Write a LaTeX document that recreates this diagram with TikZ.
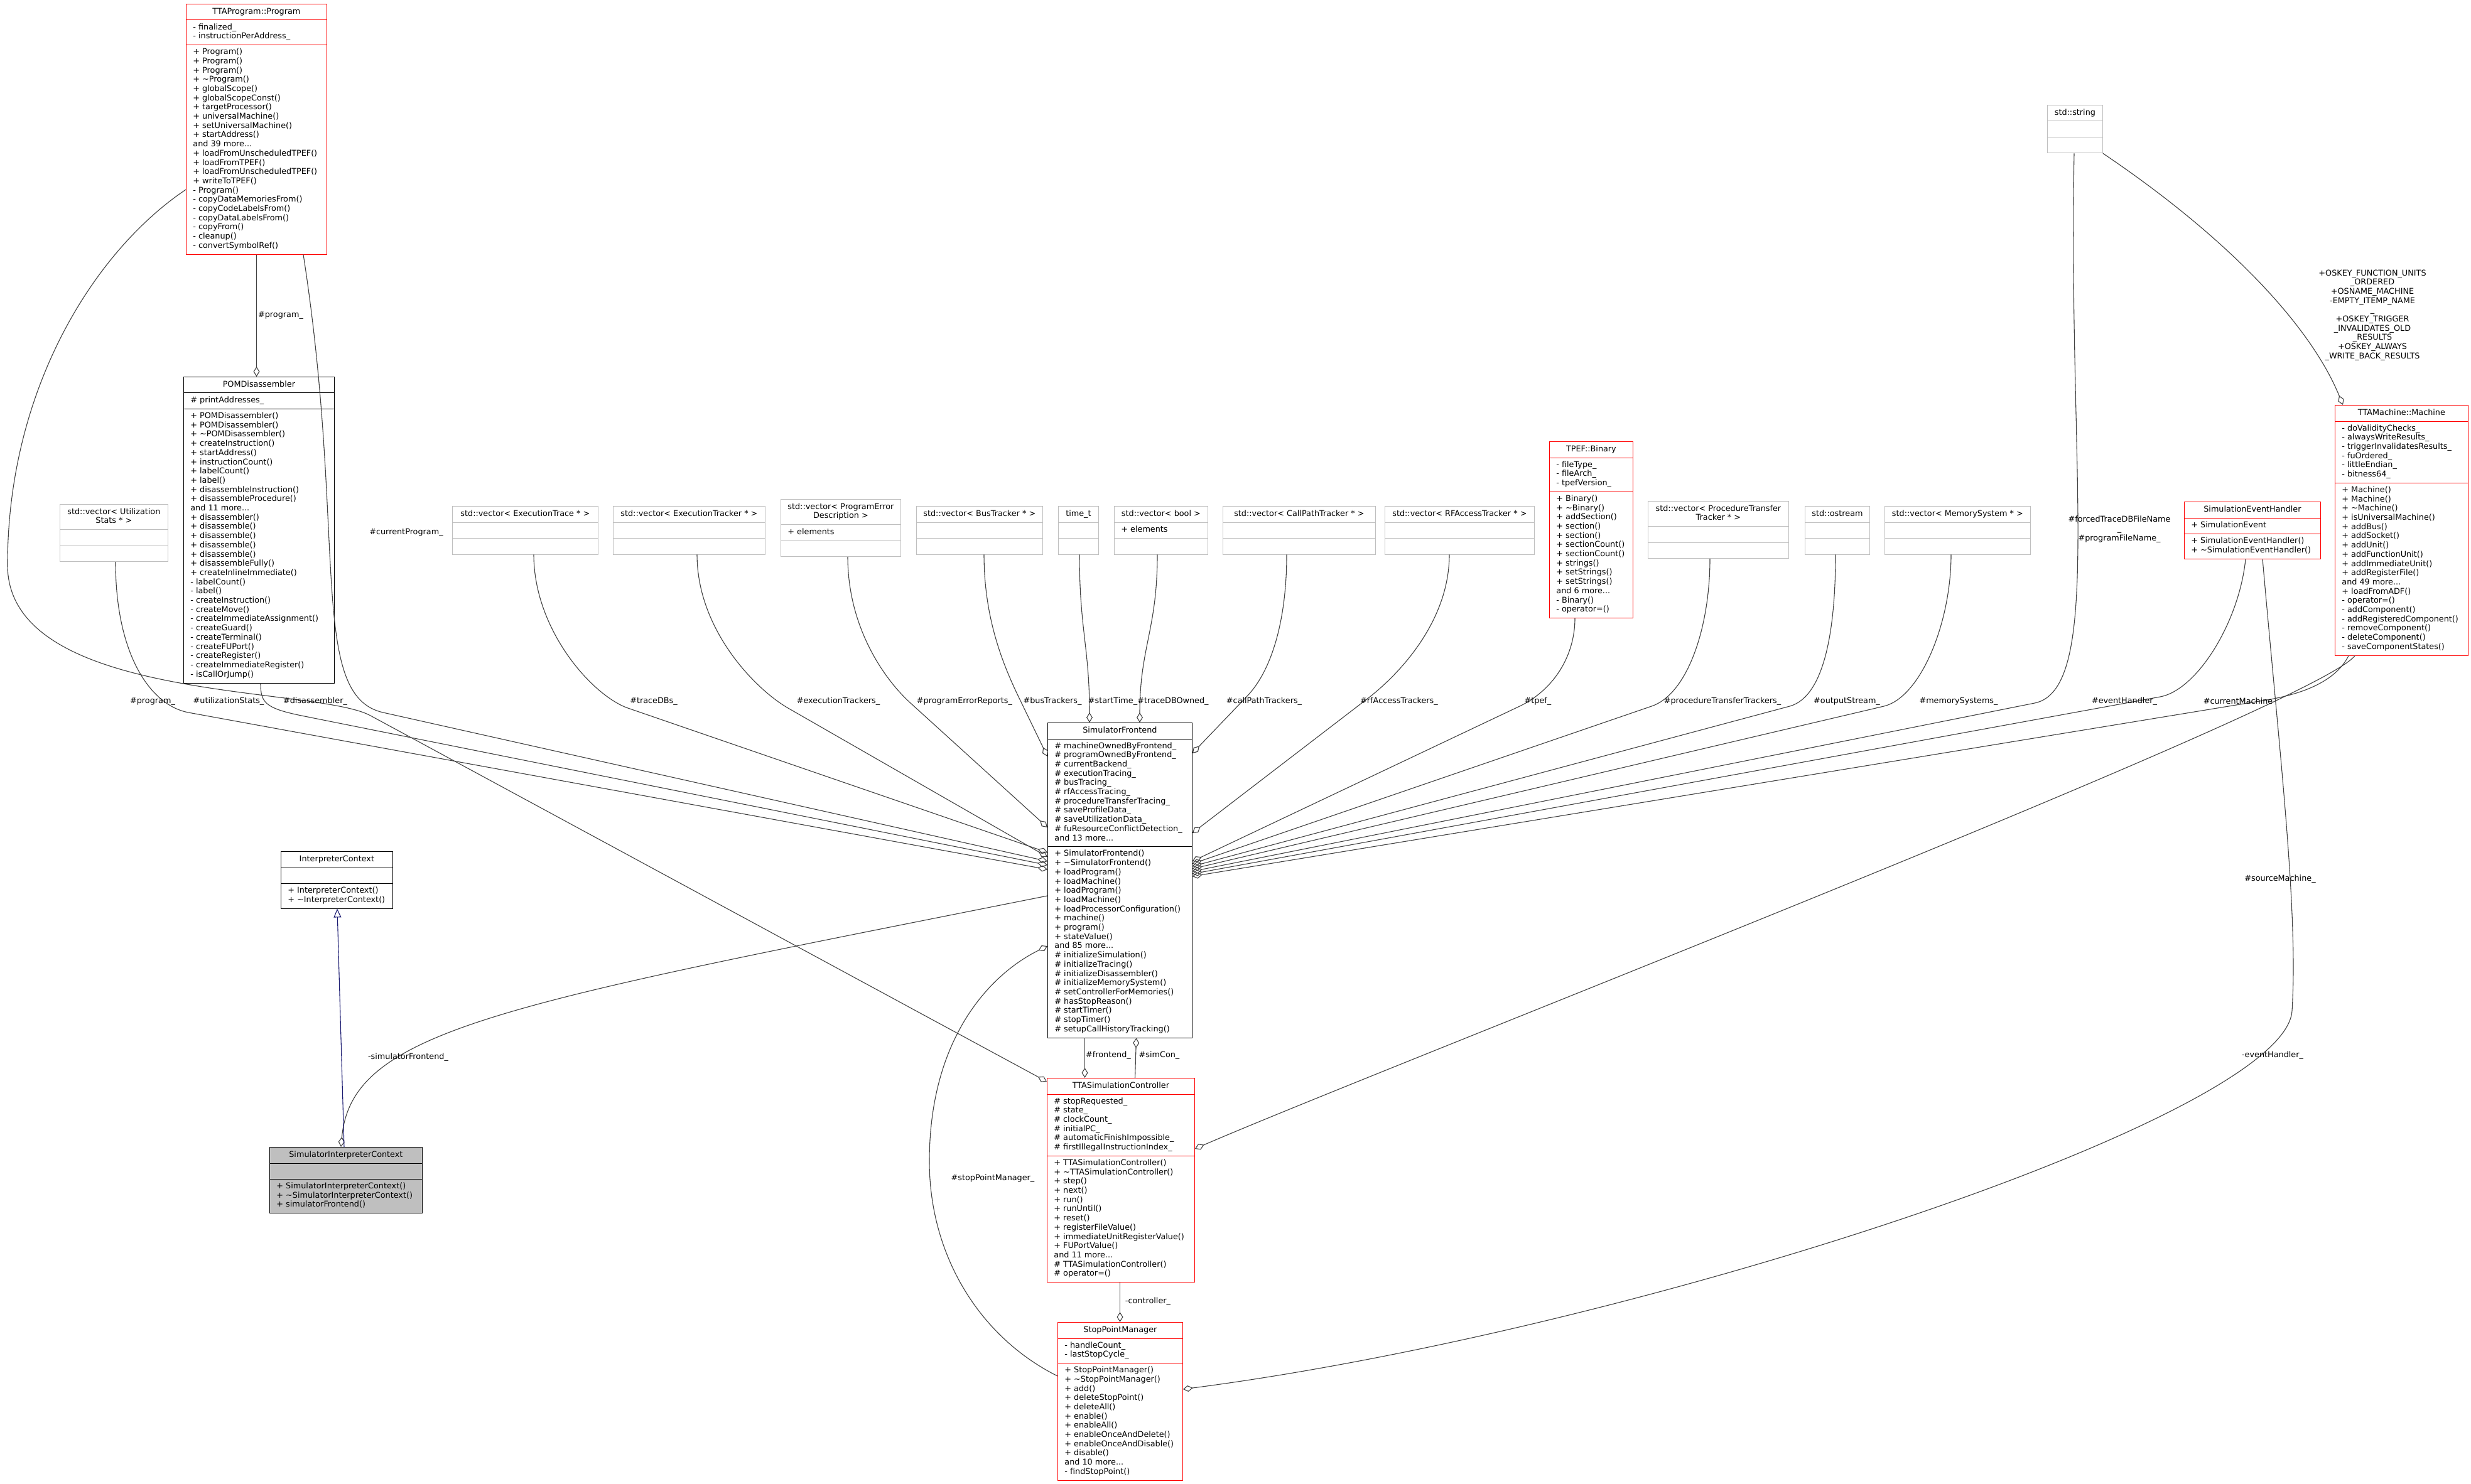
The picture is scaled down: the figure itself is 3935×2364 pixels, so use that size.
\documentclass[tikz,border=0pt]{standalone}
\usepackage{fontspec}
\setmainfont{DejaVu Sans}
\usetikzlibrary{calc}
\usetikzlibrary{arrows.meta}
\usetikzlibrary{shapes.multipart}

\definecolor{edgegray}{HTML}{404040}
\definecolor{inhblue}{HTML}{191970}
\definecolor{stdgray}{HTML}{BFBFBF}
\definecolor{docred}{HTML}{FF0000}
\newcommand{\clsfont}{\fontsize{6.4}{7.35}\selectfont\strut}
\newcommand{\lblfont}{\fontsize{6.4}{7.35}\selectfont}

\begin{document}
\begin{tikzpicture}[x=0.5pt, y=-0.5pt,
  cls/.style={rectangle split, rectangle split parts=3,
    rectangle split part align={center,left,left},
    rectangle split ignore empty parts=false,
    draw=black, fill=white, font=\clsfont, align=left,
    inner xsep=5.5pt, inner ysep=2.5pt, anchor=north west,
    minimum width=#1*0.5pt},
  redcls/.style={cls=#1, draw=docred},
  stdcls/.style={cls=#1, draw=stdgray},
  lbl/.style={font=\lblfont, align=center, inner sep=0pt},
  member/.style={draw=edgegray, line width=0.55pt, -{Diamond[open,length=8pt,width=5pt]}},
  isa/.style={draw=inhblue, line width=0.55pt, -{Triangle[open,length=7pt,width=6pt]}}]

\useasboundingbox (0,0) rectangle (3935,2364);

% top row
\node[redcls=224] (prog) at (296,6) {TTAProgram::Program
  \nodepart{two}- finalized\_\\- instructionPerAddress\_
  \nodepart{three}+ Program()\\+ Program()\\+ Program()\\+ \textasciitilde Program()\\+ globalScope()\\
  + globalScopeConst()\\+ targetProcessor()\\+ universalMachine()\\+ setUniversalMachine()\\+ startAddress()\\
  and 39 more...\\+ loadFromUnscheduledTPEF()\\+ loadFromTPEF()\\+ loadFromUnscheduledTPEF()\\+ writeToTPEF()\\
  - Program()\\- copyDataMemoriesFrom()\\- copyCodeLabelsFrom()\\- copyDataLabelsFrom()\\- copyFrom()\\
  - cleanup()\\- convertSymbolRef()};

\node[cls=240] (pom) at (292,600) {POMDisassembler
  \nodepart{two}\# printAddresses\_
  \nodepart{three}+ POMDisassembler()\\+ POMDisassembler()\\+ \textasciitilde POMDisassembler()\\+ createInstruction()\\
  + startAddress()\\+ instructionCount()\\+ labelCount()\\+ label()\\+ disassembleInstruction()\\
  + disassembleProcedure()\\and 11 more...\\+ disassembler()\\+ disassemble()\\+ disassemble()\\+ disassemble()\\
  + disassemble()\\+ disassembleFully()\\+ createInlineImmediate()\\- labelCount()\\- label()\\
  - createInstruction()\\- createMove()\\- createImmediateAssignment()\\- createGuard()\\- createTerminal()\\
  - createFUPort()\\- createRegister()\\- createImmediateRegister()\\- isCallOrJump()};

\node[stdcls=172] (utilstats) at (95,803) {\begin{tabular}{@{}c@{}}std::vector< Utilization\\Stats * >\end{tabular}
  \nodepart{two}\nodepart{three}};
\node[stdcls=232] (exectrace) at (720,806) {std::vector< ExecutionTrace * >\nodepart{two}\nodepart{three}};
\node[stdcls=242] (exectracker) at (976,806) {std::vector< ExecutionTracker * >\nodepart{two}\nodepart{three}};
\node[stdcls=191] (progerr) at (1243,795) {\begin{tabular}{@{}c@{}}std::vector< ProgramError\\Description >\end{tabular}
  \nodepart{two}+ elements\nodepart{three}};
\node[stdcls=197] (bustracker) at (1459,806) {std::vector< BusTracker * >\nodepart{two}\nodepart{three}};
\node[stdcls=64] (timet) at (1685,806) {time\_t\nodepart{two}\nodepart{three}};
\node[stdcls=149] (vecbool) at (1774,806) {std::vector< bool >\nodepart{two}+ elements\nodepart{three}};
\node[stdcls=243] (callpath) at (1947,806) {std::vector< CallPathTracker * >\nodepart{two}\nodepart{three}};
\node[stdcls=238] (rfaccess) at (2205,806) {std::vector< RFAccessTracker * >\nodepart{two}\nodepart{three}};

\node[redcls=133] (binary) at (2467,703) {TPEF::Binary
  \nodepart{two}- fileType\_\\- fileArch\_\\- tpefVersion\_
  \nodepart{three}+ Binary()\\+ \textasciitilde Binary()\\+ addSection()\\+ section()\\+ section()\\+ sectionCount()\\
  + sectionCount()\\+ strings()\\+ setStrings()\\+ setStrings()\\and 6 more...\\- Binary()\\- operator=()};

\node[stdcls=224] (proctrans) at (2624,798) {\begin{tabular}{@{}c@{}}std::vector< ProcedureTransfer\\Tracker * >\end{tabular}
  \nodepart{two}\nodepart{three}};
\node[stdcls=102] (ostream) at (2874,806) {std::ostream\nodepart{two}\nodepart{three}};
\node[stdcls=232] (memsys) at (3001,806) {std::vector< MemorySystem * >\nodepart{two}\nodepart{three}};
\node[stdcls=88] (stdstring) at (3260,167) {std::string\nodepart{two}\nodepart{three}};

\node[redcls=217] (seh) at (3478,799) {SimulationEventHandler
  \nodepart{two}+ SimulationEvent
  \nodepart{three}+ SimulationEventHandler()\\+ \textasciitilde SimulationEventHandler()};

\node[redcls=212] (machine) at (3718,645) {TTAMachine::Machine
  \nodepart{two}- doValidityChecks\_\\- alwaysWriteResults\_\\- triggerInvalidatesResults\_\\- fuOrdered\_\\
  - littleEndian\_\\- bitness64\_
  \nodepart{three}+ Machine()\\+ Machine()\\+ \textasciitilde Machine()\\+ isUniversalMachine()\\+ addBus()\\
  + addSocket()\\+ addUnit()\\+ addFunctionUnit()\\+ addImmediateUnit()\\+ addRegisterFile()\\and 49 more...\\
  + loadFromADF()\\- operator=()\\- addComponent()\\- addRegisteredComponent()\\- removeComponent()\\
  - deleteComponent()\\- saveComponentStates()};

% middle column
\node[cls=230] (sf) at (1668,1151) {SimulatorFrontend
  \nodepart{two}\# machineOwnedByFrontend\_\\\# programOwnedByFrontend\_\\\# currentBackend\_\\
  \# executionTracing\_\\\# busTracing\_\\\# rfAccessTracing\_\\\# procedureTransferTracing\_\\
  \# saveProfileData\_\\\# saveUtilizationData\_\\\# fuResourceConflictDetection\_\\and 13 more...
  \nodepart{three}+ SimulatorFrontend()\\+ \textasciitilde SimulatorFrontend()\\+ loadProgram()\\+ loadMachine()\\
  + loadProgram()\\+ loadMachine()\\+ loadProcessorConfiguration()\\+ machine()\\+ program()\\+ stateValue()\\
  and 85 more...\\\# initializeSimulation()\\\# initializeTracing()\\\# initializeDisassembler()\\
  \# initializeMemorySystem()\\\# setControllerForMemories()\\\# hasStopReason()\\\# startTimer()\\
  \# stopTimer()\\\# setupCallHistoryTracking()};

\node[redcls=235] (tsc) at (1667,1717) {TTASimulationController
  \nodepart{two}\# stopRequested\_\\\# state\_\\\# clockCount\_\\\# initialPC\_\\\# automaticFinishImpossible\_\\
  \# firstIllegalInstructionIndex\_
  \nodepart{three}+ TTASimulationController()\\+ \textasciitilde TTASimulationController()\\+ step()\\+ next()\\
  + run()\\+ runUntil()\\+ reset()\\+ registerFileValue()\\+ immediateUnitRegisterValue()\\+ FUPortValue()\\
  and 11 more...\\\# TTASimulationController()\\\# operator=()};

\node[redcls=199] (spm) at (1684,2106) {StopPointManager
  \nodepart{two}- handleCount\_\\- lastStopCycle\_
  \nodepart{three}+ StopPointManager()\\+ \textasciitilde StopPointManager()\\+ add()\\+ deleteStopPoint()\\
  + deleteAll()\\+ enable()\\+ enableAll()\\+ enableOnceAndDelete()\\+ enableOnceAndDisable()\\+ disable()\\
  and 10 more...\\- findStopPoint()};

% left column
\node[cls=178] (ictx) at (447,1356) {InterpreterContext
  \nodepart{two}\nodepart{three}+ InterpreterContext()\\+ \textasciitilde InterpreterContext()};
\node[cls=243, fill=stdgray] (sictx) at (429,1827) {SimulatorInterpreterContext
  \nodepart{two}\nodepart{three}+ SimulatorInterpreterContext()\\+ \textasciitilde SimulatorInterpreterContext()\\
  + simulatorFrontend()};

% members into the frontend, left side
\draw[member] ($(prog.south west)+(112.5,0)$) -- ($(pom.north west)+(116.5,0)$);
\draw[member] ($(prog.south west)+(187,0)$) .. controls +(70,450) and +(-120,-27) .. (610,1135) -- ($(sf.north west)+(0,221)$);
\draw[member] ($(prog.north west)+(0,296)$) .. controls (150,400) and (12,620) .. (12,900)
  .. controls (12,1120) and (502,1092) .. (590,1140) -- ($(tsc.north west)+(0,6)$);
\draw[member] ($(utilstats.south west)+(89,0)$) .. controls +(0,150) and +(-59,-11) .. (300,1135) -- ($(sf.north west)+(0,234)$);
\draw[member] ($(pom.south west)+(123,0)$) .. controls +(0,30) and +(-59,-12) .. (480,1140) -- ($(sf.north west)+(0,227)$);
\draw[member] ($(exectrace.south west)+(130,0)$) .. controls +(0,120) and +(-57,-20) .. (1000,1128) -- ($(sf.north west)+(0,207)$);
\draw[member] ($(exectracker.south west)+(134,0)$) .. controls +(0,120) and +(-52,-30) .. (1255,1128) -- ($(sf.north west)+(0,214)$);
\draw[member] ($(progerr.south west)+(107,0)$) .. controls +(0,110) and +(-44,-40) .. (1450,1120) -- ($(sf.north west)+(0,167)$);
\draw[member] ($(bustracker.south west)+(108,0)$) .. controls +(0,100) and +(-26,-54) .. (1622,1110) -- ($(sf.north west)+(0,54)$);
\draw[member] ($(timet.south west)+(34,0)$) .. controls +(0,120) and +(0,-120) .. ($(sf.north west)+(67,0)$);
\draw[member] ($(vecbool.south west)+(69,0)$) .. controls +(0,120) and +(0,-120) .. ($(sf.north west)+(147,0)$);

% members into the frontend, right side
\draw[member] ($(callpath.south west)+(102,0)$) .. controls +(0,100) and +(42,-43) .. (1985,1110) -- ($(sf.north east)+(0,49)$);
\draw[member] ($(rfaccess.south west)+(103,0)$) .. controls +(0,110) and +(48,-36) .. (2175,1115) -- ($(sf.north east)+(0,176)$);
\draw[member] ($(binary.south west)+(41,0)$) .. controls +(0,60) and +(54,-26) .. (2420,1125) -- ($(sf.north east)+(0,221)$);
\draw[member] ($(proctrans.south west)+(99,0)$) .. controls +(0,110) and +(57,-19) .. (2630,1125) -- ($(sf.north east)+(0,225)$);
\draw[member] ($(ostream.south west)+(49,0)$) .. controls +(0,110) and +(58,-16) .. (2850,1125) -- ($(sf.north east)+(0,229)$);
\draw[member] ($(memsys.south west)+(106,0)$) .. controls +(0,110) and +(58,-14) .. (3000,1125) -- ($(sf.north east)+(0,233)$);
\draw[member] ($(stdstring.south west)+(43,0)$) .. controls +(-10,500) and +(110,-22) .. (3240,1120) -- ($(sf.north east)+(0,237)$);
\draw[member] ($(seh.south west)+(98,0)$) .. controls +(-10,100) and +(59,-11) .. (3440,1110) -- ($(sf.north east)+(0,241)$);
\draw[member] ($(machine.south west)+(22,0)$) .. controls +(-20,40) and +(59,-10) .. (3610,1115) -- ($(sf.north east)+(0,245)$);
\draw[member] (stdstring.south east) .. controls (3550,380) and (3680,520) .. ($(machine.north west)+(13,0)$);

% the rest
\draw[member] ($(machine.south west)+(32,0)$) .. controls +(-60,80) and +(300,-130) .. ($(tsc.north east)+(0,113)$);
\draw[member] ($(seh.south west)+(125,0)$) .. controls (3630,1200) and (3660,1450) .. (3650,1610)
  .. controls (3640,1780) and (2600,2120) .. ($(spm.north east)+(0,107)$);
\draw[member] ($(spm.north west)+(0,86)$) .. controls (1560,2130) and (1480,2000) .. (1480,1850)
  .. controls (1480,1650) and (1580,1550) .. ($(sf.north west)+(0,356)$);
\draw[member] ($(sf.north west)+(0,276)$) .. controls (800,1600) and (560,1640) .. ($(sictx.north west)+(114,0)$);
\draw[member] ($(sf.south west)+(59.5,0)$) -- ($(tsc.north west)+(60.5,0)$);
\draw[member] ($(tsc.north west)+(140.5,0)$) -- ($(sf.south west)+(141.5,0)$);
\draw[member] ($(tsc.south west)+(116.5,0)$) -- ($(spm.north west)+(99.5,0)$);
\draw[isa] ($(sictx.north west)+(119,0)$) -- ($(ictx.south west)+(90,0)$);

% labels
\node[lbl] (lprogpom) at (447,502) {\#program\_};
\node[lbl] (lcurprog) at (647,848) {\#currentProgram\_};
\node[lbl] (lprogram) at (243,1117) {\#program\_};
\node[lbl] (lutil) at (364,1117) {\#utilizationStats\_};
\node[lbl] (ldisasm) at (502,1117) {\#disassembler\_};
\node[lbl] (ltracedbs) at (1041,1117) {\#traceDBs\_};
\node[lbl] (lexectr) at (1335,1117) {\#executionTrackers\_};
\node[lbl] (lprogerr) at (1536,1117) {\#programErrorReports\_};
\node[lbl] (lbus) at (1676,1117) {\#busTrackers\_};
\node[lbl] (lstart) at (1772,1117) {\#startTime\_};
\node[lbl] (lowned) at (1868,1117) {\#traceDBOwned\_};
\node[lbl] (lcallpath) at (2013,1117) {\#callPathTrackers\_};
\node[lbl] (lrf) at (2228,1117) {\#rfAccessTrackers\_};
\node[lbl] (ltpef) at (2449,1117) {\#tpef\_};
\node[lbl] (lproc) at (2743,1117) {\#procedureTransferTrackers\_};
\node[lbl] (lout) at (2941,1117) {\#outputStream\_};
\node[lbl] (lmem) at (3119,1117) {\#memorySystems\_};
\node[lbl] (levh) at (3383,1117) {\#eventHandler\_};
\node[lbl] (lcurm) at (3564,1117) {\#currentMachine};
\node[lbl] (lstr) at (3375,843) {\#forcedTraceDBFileName\\\_\\\#programFileName\_};
\node[lbl] (loskey) at (3778,502) {+OSKEY\_FUNCTION\_UNITS\\\_ORDERED\\+OSNAME\_MACHINE\\-EMPTY\_ITEMP\_NAME\\\_\\
  +OSKEY\_TRIGGER\\\_INVALIDATES\_OLD\\\_RESULTS\\+OSKEY\_ALWAYS\\\_WRITE\_BACK\_RESULTS};
\node[lbl] (lfrontend) at (1765,1681) {\#frontend\_};
\node[lbl] (lsimcon) at (1846,1681) {\#simCon\_};
\node[lbl] (lsimfront) at (650,1684) {-simulatorFrontend\_};
\node[lbl] (lspm) at (1581,1877) {\#stopPointManager\_};
\node[lbl] (lctrl) at (1828,2073) {-controller\_};
\node[lbl] (lsrcm) at (3631,1400) {\#sourceMachine\_};
\node[lbl] (levh2) at (3619,1681) {-eventHandler\_};

\end{tikzpicture}
\end{document}
